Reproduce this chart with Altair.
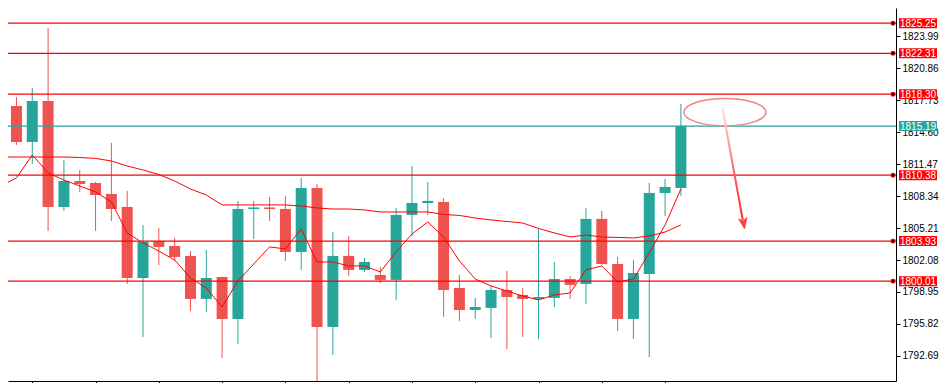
import altair as alt
import pandas as pd

# ---------------- data ----------------
idx = list(range(44))
opens = [1811.18, 1817.15, 1813.63, 1817.64, 1807.27, 1809.81, 1809.62, 1808.54, 1807.27, 1800.32,
         1803.94, 1803.45, 1802.48, 1798.27, 1800.42, 1796.31, 1807.07, 1807.22, 1807.07, 1802.87,
         1809.13, 1795.53, 1802.48, 1801.11, 1800.62, 1800.13, 1806.49, 1807.66, 1807.76, 1799.34,
         1797.19, 1797.39, 1799.15, 1798.66, 1798.27, 1798.37, 1800.22, 1799.74, 1806.10, 1801.69,
         1796.31, 1800.71, 1808.64, 1809.13]
highs = [1817.60, 1818.03, 1818.91, 1824.78, 1811.87, 1810.89, 1809.72, 1813.53, 1808.84, 1805.51,
         1805.21, 1804.24, 1802.96, 1803.06, 1800.45, 1807.86, 1807.86, 1808.25, 1808.35, 1810.11,
         1809.52, 1804.82, 1804.43, 1802.28, 1801.40, 1807.17, 1811.28, 1809.72, 1808.15, 1800.62,
         1798.37, 1799.54, 1801.01, 1799.34, 1805.12, 1801.89, 1800.52, 1807.17, 1806.88, 1802.38,
         1802.08, 1809.62, 1810.01, 1817.35]
lows = [1810.90, 1813.34, 1811.48, 1804.92, 1806.88, 1808.74, 1804.92, 1805.90, 1799.74, 1794.55,
        1801.59, 1801.99, 1797.09, 1797.00, 1792.49, 1793.86, 1804.14, 1805.90, 1801.99, 1801.11,
        1790.05, 1792.79, 1800.52, 1800.91, 1799.83, 1798.17, 1804.43, 1806.49, 1796.51, 1796.11,
        1796.31, 1794.45, 1793.37, 1794.55, 1794.35, 1797.48, 1798.27, 1797.78, 1801.60, 1795.14,
        1794.35, 1792.59, 1806.39, 1808.35]
closes = [1817.15, 1813.63, 1817.64, 1807.27, 1809.81, 1809.52, 1808.44, 1807.07, 1800.32, 1803.84,
          1803.36, 1802.38, 1798.27, 1800.32, 1796.31, 1807.07, 1807.22, 1807.07, 1802.87, 1809.13,
          1795.53, 1802.48, 1801.11, 1801.89, 1800.13, 1806.49, 1807.66, 1807.86, 1799.15, 1797.19,
          1797.48, 1799.15, 1798.46, 1798.27, 1798.46, 1800.22, 1799.64, 1806.10, 1801.69, 1796.31,
          1800.81, 1808.64, 1809.23, 1815.20]

ma_fast = [1809.32, 1810.11, 1812.36, 1810.60, 1809.91, 1809.32, 1808.74, 1807.76, 1804.73, 1803.75,
           1802.96, 1802.08, 1800.32, 1799.34, 1797.48, 1800.03, 1801.69, 1803.36, 1803.16, 1805.12,
           1801.89, 1801.89, 1801.50, 1801.50, 1800.91, 1802.87, 1804.63, 1805.80, 1804.33, 1801.99,
           1800.22, 1799.54, 1799.05, 1798.56, 1798.17, 1798.66, 1798.85, 1801.11, 1801.50, 1799.93,
           1800.22, 1802.77, 1805.51, 1809.03]
ma_slow = [1812.16, 1812.16, 1812.16, 1812.16, 1812.16, 1812.11, 1812.02, 1811.77, 1811.28, 1810.89,
           1810.45, 1809.81, 1809.03, 1808.44, 1807.47, 1807.47, 1807.47, 1807.47, 1807.47, 1807.37,
           1807.17, 1807.07, 1807.07, 1806.98, 1806.78, 1806.78, 1806.78, 1806.78, 1806.54, 1806.44,
           1806.19, 1806.00, 1805.85, 1805.70, 1805.17, 1804.73, 1804.33, 1804.53, 1804.33, 1804.29,
           1804.24, 1804.43, 1804.82, 1805.51]

level_prices = [1825.25, 1822.31, 1818.30, 1815.19, 1810.38, 1803.93, 1800.01]
level_kinds = ["level", "level", "level", "bid", "level", "level", "level"]

price_ticks = [1827.12, 1823.99, 1820.86, 1817.73, 1814.60, 1811.47, 1808.34,
               1805.21, 1802.08, 1798.95, 1795.82, 1792.69]
time_ticks = [2, 6, 10, 14, 18, 22, 26, 30, 34, 38, 42]

# annotation anchors (candle index, price)
ellipse_at = [45.78, 1816.54]
arrow_x = [45.625, 46.91]
arrow_y = [1816.96, 1805.99]
arrow_head = [46.97, 1805.65]

# ---------------- styles ----------------
RED = "#ef5350"
TEAL = "#26a69a"
LRED = "#ff0000"
FONT = "Liberation Sans"

candles = pd.DataFrame({"i": idx, "open": opens, "high": highs, "low": lows, "close": closes})
candles["dir"] = ["up" if c >= o else "down" for o, c in zip(opens, closes)]
ma = pd.DataFrame({"i": idx, "fast": ma_fast, "slow": ma_slow})
levels = pd.DataFrame({"price": level_prices, "kind": level_kinds})
ell = pd.DataFrame({"i": [ellipse_at[0]], "p": [ellipse_at[1]]})
arr = pd.DataFrame({"i": arrow_x, "p": arrow_y, "o": [0, 1]})
head = pd.DataFrame({"i": [arrow_head[0]], "p": [arrow_head[1]]})

xs = alt.Scale(domain=[0.78125, 56.28125], nice=False, zero=False)
ys = alt.Scale(domain=[1790.24, 1826.74], nice=False, zero=False)
cs = alt.Scale(domain=["up", "down", "level", "bid"], range=[TEAL, RED, LRED, TEAL])

x_axis = alt.Axis(orient="bottom", values=time_ticks, labels=False, ticks=True, tickSize=4,
                  tickColor="black", domainColor="black", domainWidth=1, tickWidth=1,
                  grid=False, title=None)
y_axis = alt.Axis(orient="right", values=price_ticks, format=".2f", tickSize=4, labelPadding=2,
                  labelFont=FONT, labelFontSize=10, labelColor="black", domainColor="black",
                  tickColor="black", domainWidth=1, tickWidth=1, grid=False, title=None,
                  labelBaseline="middle", labelAlign="left", labelFlush=False, labelOverlap=False)


def X(f):
    return alt.X(f, type="quantitative", scale=xs, axis=x_axis)


def Y(f):
    return alt.Y(f, type="quantitative", scale=ys, axis=y_axis)


def C(f):
    return alt.Color(f, type="nominal", scale=cs, legend=None)


wicks = alt.Chart(candles).mark_rule(strokeWidth=1, clip=True).encode(
    x=X("i"), y=Y("low"), y2=alt.Y2("high"), color=C("dir"))
bodies = alt.Chart(candles).mark_bar(size=11, clip=True).encode(
    x=X("i"), y=Y("open"), y2=alt.Y2("close"), color=C("dir"))

level_lines = alt.Chart(levels).mark_rule(strokeWidth=1.25).encode(y=Y("price"), color=C("kind"))

slow_line = alt.Chart(ma).mark_line(color=LRED, strokeWidth=1, clip=True).encode(x=X("i"), y=Y("slow"))
fast_line = alt.Chart(ma).mark_line(color=LRED, strokeWidth=1, clip=True).encode(x=X("i"), y=Y("fast"))

ELLIPSE = ("M -1 0 C -1 -0.184 -0.5523 -0.333 0 -0.333 C 0.5523 -0.333 1 -0.184 1 0 "
           "C 1 0.184 0.5523 0.333 0 0.333 C -0.5523 0.333 -1 0.184 -1 0 Z")
ellipse = alt.Chart(ell).mark_point(shape=ELLIPSE, size=6724, filled=False, stroke="#f08383",
                                    strokeWidth=1.5, opacity=1).encode(x=X("i"), y=Y("p"))

grad = alt.Gradient(gradient="linear",
                    stops=[alt.GradientStop(color="#fde0e0", offset=0),
                           alt.GradientStop(color="#ff5a5a", offset=0.6),
                           alt.GradientStop(color="#ff3030", offset=1)],
                    x1=0, x2=0, y1=0, y2=1)
arrow = alt.Chart(arr).mark_line(stroke=grad, strokeWidth=2).encode(
    x=X("i"), y=Y("p"), order="o:Q")
ARROWHEAD = "M -0.8 -1 L 0 1 L 0.8 -1 L 0 -0.5 Z"
arrow_tip = alt.Chart(head).mark_point(shape=ARROWHEAD, size=121, filled=True, fill="#ff3b3b",
                                       stroke="#ff3b3b", strokeWidth=0.5, angle=350,
                                       opacity=1).encode(x=X("i"), y=Y("p"))

squares = alt.Chart(levels).transform_filter("datum.kind == 'level'").mark_point(
    shape="square", size=12, filled=True, fill="black", stroke=LRED, strokeWidth=1,
    opacity=1, clip=False).encode(x=alt.value(885), y=Y("price"))

boxes = alt.Chart(levels).mark_rect(yOffset=-5, y2Offset=5, clip=False).encode(
    x=alt.value(891), x2=alt.value(929), y=Y("price"), y2=alt.Y2("price"), color=C("kind"))
box_text = alt.Chart(levels).mark_text(align="left", baseline="middle", font=FONT, fontSize=10,
                                       color="white", clip=False, dy=0.5).encode(
    x=alt.value(892), y=Y("price"), text=alt.Text("price:Q", format=".2f"))

chart = alt.layer(
    wicks, bodies, level_lines, slow_line, fast_line, ellipse, arrow, arrow_tip,
    squares, boxes, box_text
).properties(
    width=888, height=373,
    autosize=alt.AutoSizeParams(type="none"),
    padding={"left": 0, "top": 0, "right": 47, "bottom": 2},
    background="white",
).configure_view(stroke=None)

chart.save("out.html", embed_options={"renderer": "svg", "actions": False})
